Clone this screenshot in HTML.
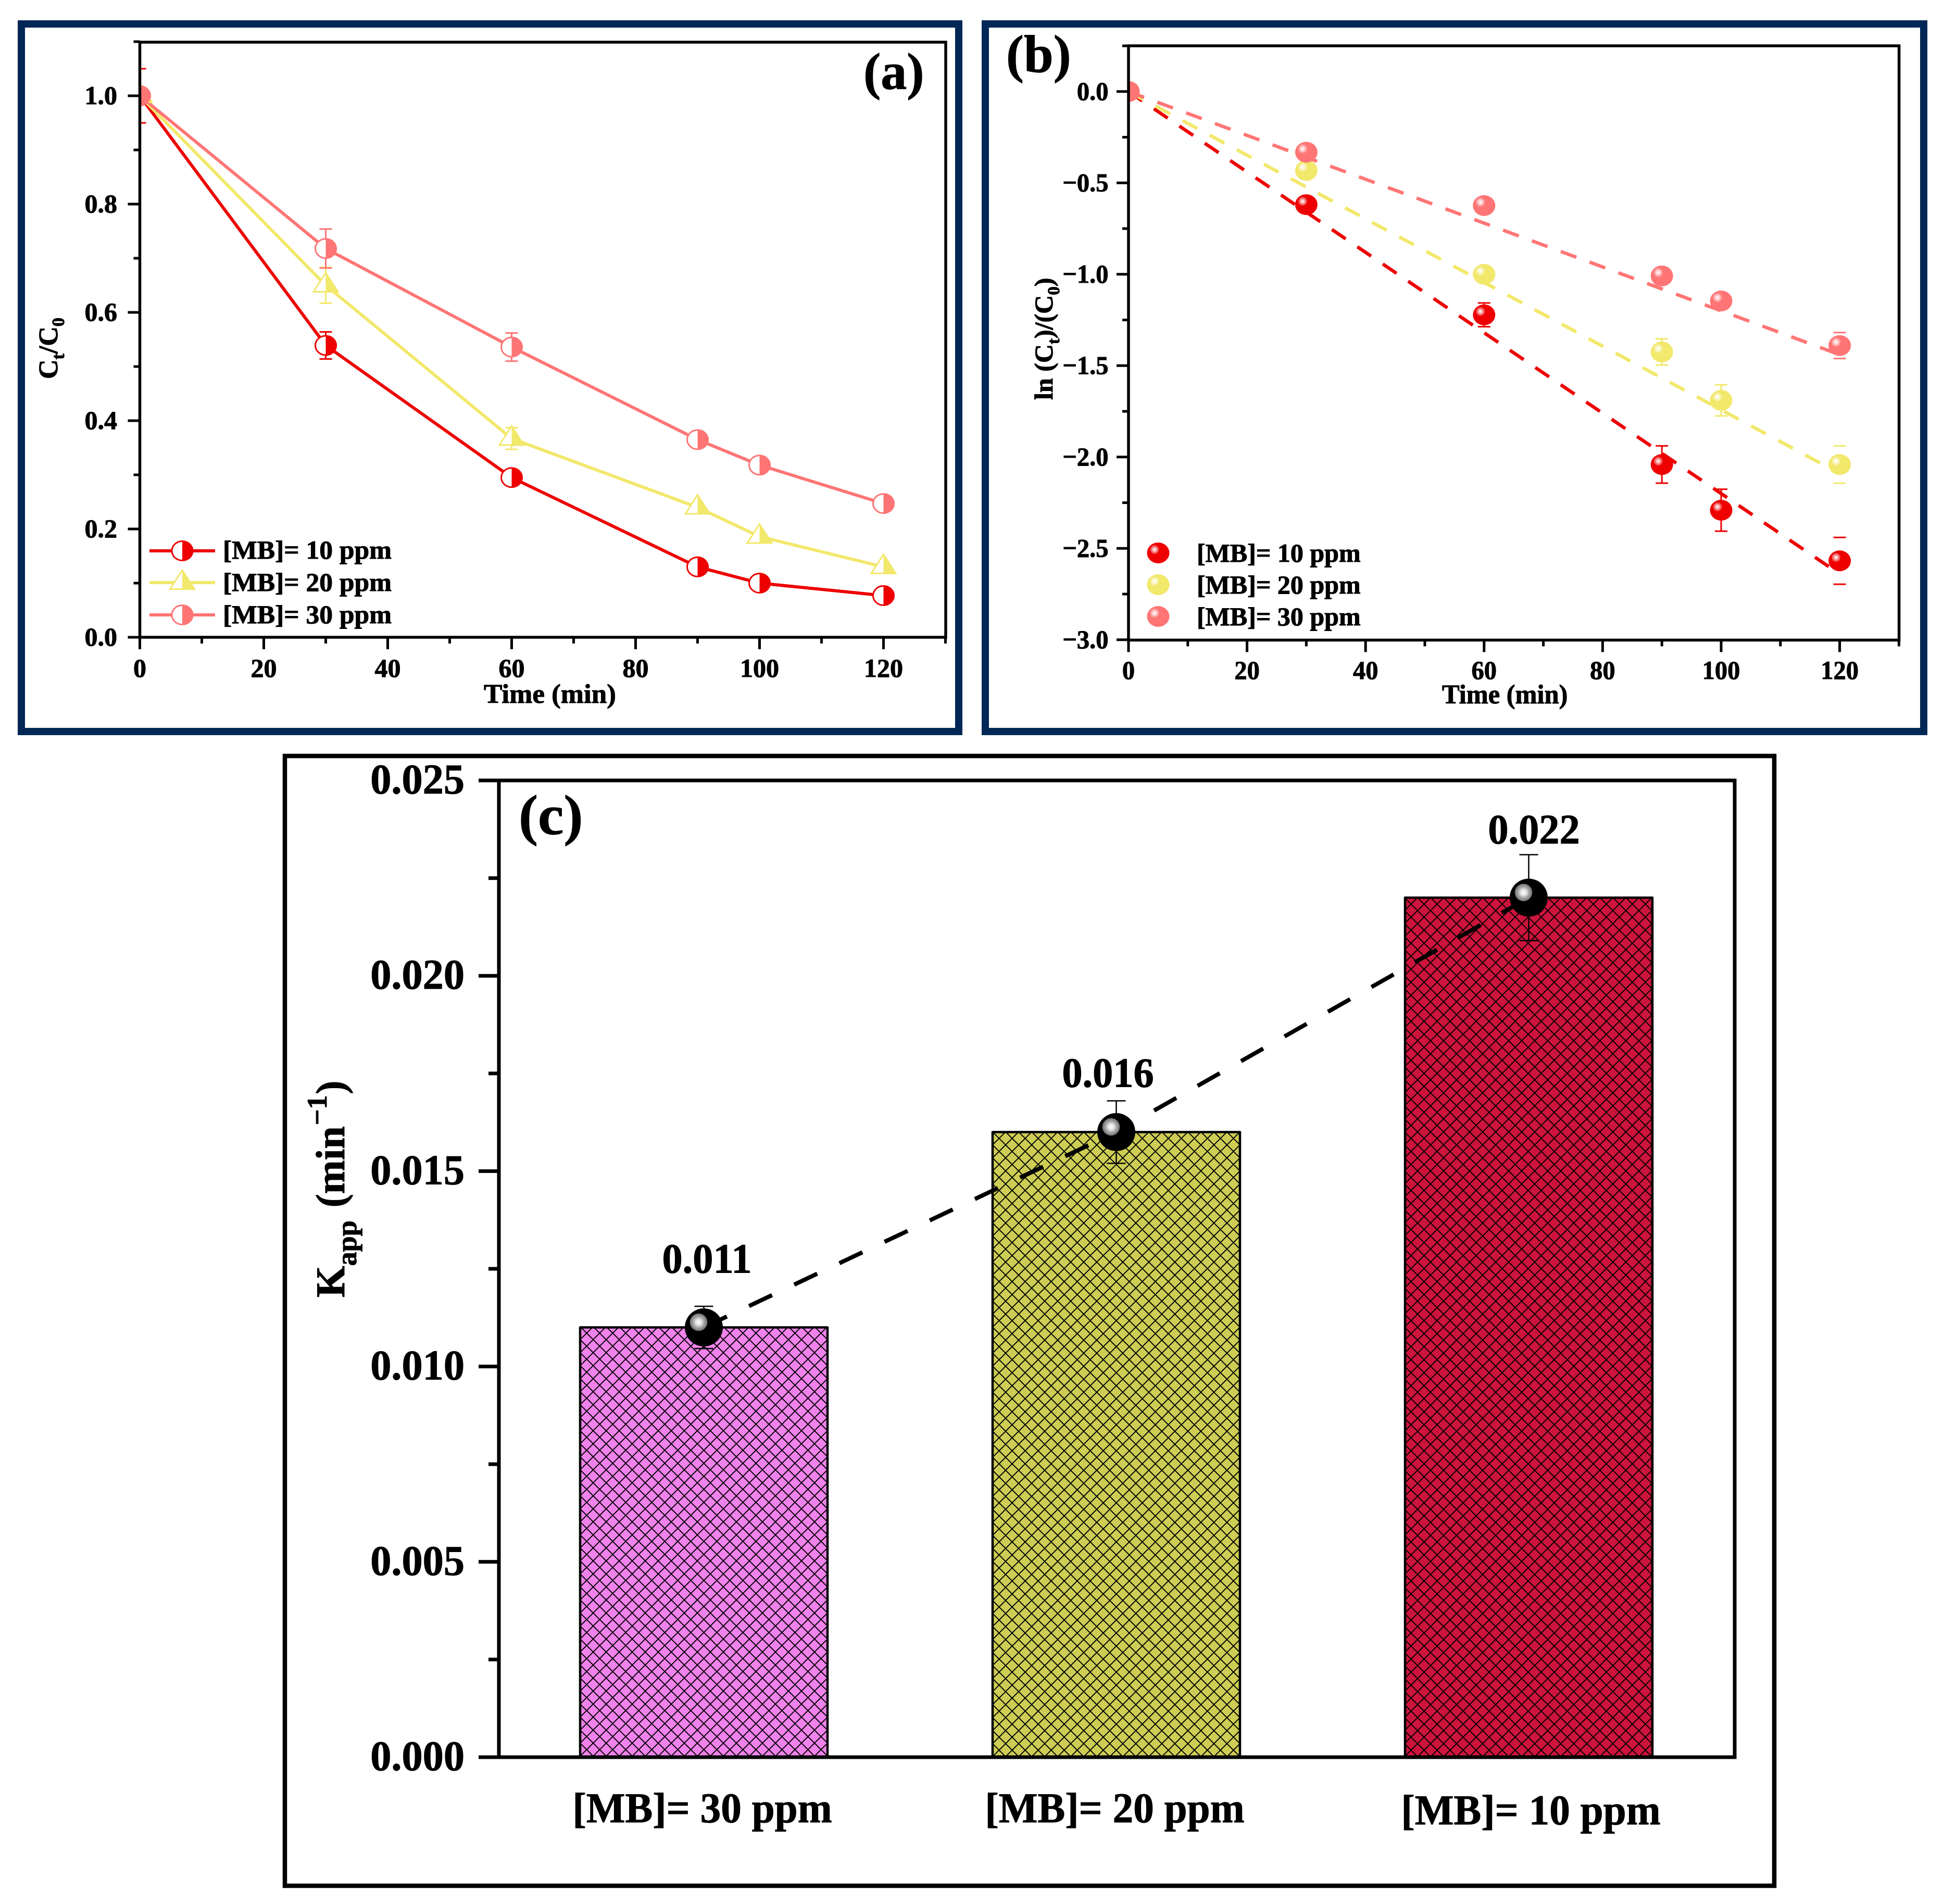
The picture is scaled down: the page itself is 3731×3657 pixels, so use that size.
<!DOCTYPE html>
<html lang="en">
<head>
<meta charset="utf-8">
<title>MB degradation kinetics</title>
<style>
html,body{margin:0;padding:0;background:#fff;}
svg{display:block;font-family:"Liberation Serif",serif;font-weight:bold;}
svg text{stroke:#000;stroke-width:1;}
</style>
</head>
<body>
<svg id="fig" xmlns="http://www.w3.org/2000/svg" width="3731" height="3657" viewBox="0 0 3731 3657">
  <defs>
    <clipPath id="clipA"><rect x="268.5" y="81" width="1547.5" height="1143"/></clipPath>
    <clipPath id="clipB"><rect x="2167" y="88" width="1479.6" height="1141.4"/></clipPath>
    <radialGradient id="shine">
      <stop offset="0" stop-color="#fff" stop-opacity="1"/>
      <stop offset="0.4" stop-color="#fff" stop-opacity="0.7"/>
      <stop offset="1" stop-color="#fff" stop-opacity="0.1"/>
    </radialGradient>
    <radialGradient id="shineDark">
      <stop offset="0" stop-color="#fff"/>
      <stop offset="0.35" stop-color="#e0e0e0"/>
      <stop offset="0.6" stop-color="#aaa"/>
      <stop offset="0.95" stop-color="#777"/>
      <stop offset="1" stop-color="#333"/>
    </radialGradient>
    <pattern id="hatchPink" patternUnits="userSpaceOnUse" width="25" height="25" x="1114" y="2548">
      <rect width="25" height="25" fill="#f082eb"/>
      <path d="M0,0L25,25M25,0L0,25" stroke="#000" stroke-width="1.9" fill="none"/>
    </pattern>
    <pattern id="hatchOlive" patternUnits="userSpaceOnUse" width="25" height="25" x="1906" y="2174">
      <rect width="25" height="25" fill="#cdcd55"/>
      <path d="M0,0L25,25M25,0L0,25" stroke="#000" stroke-width="1.9" fill="none"/>
    </pattern>
    <pattern id="hatchCrimson" patternUnits="userSpaceOnUse" width="25" height="25" x="2697" y="1724">
      <rect width="25" height="25" fill="#cd143c"/>
      <path d="M0,0L25,25M25,0L0,25" stroke="#000" stroke-width="1.9" fill="none"/>
    </pattern>
  </defs>

  <rect x="0" y="0" width="3731" height="3657" fill="#fff"/>
  <rect x="41" y="46" width="1800" height="1359" fill="#fff" stroke="#012756" stroke-width="14"/>
  <rect x="1892" y="46" width="1802" height="1359" fill="#fff" stroke="#012756" stroke-width="14"/>
  <rect x="547" y="1452" width="2860" height="2170" fill="#fff" stroke="#000" stroke-width="8.5"/>

  <g id="panelA"></g>
  <g id="panelB"></g>
  <g id="panelC"></g>

  <text transform="translate(1658,171)" font-size="100">(a)</text>
  <text transform="translate(1932,138)" font-size="102">(b)</text>
  <text transform="translate(996,1602) scale(1.03,1)" font-size="108">(c)</text>

  <text transform="translate(929,1350) scale(1.02,1)" font-size="52">Time (min)</text>
  <text transform="translate(2769,1351) scale(0.97,1)" font-size="52">Time (min)</text>

  <text transform="translate(110,728) rotate(-90)" font-size="52">C<tspan font-size="34" dy="13">t</tspan><tspan dy="-13">/C</tspan><tspan font-size="34" dy="13">0</tspan></text>
  <text transform="translate(2021,768) rotate(-90)" font-size="50">ln (C<tspan font-size="33" dy="13">t</tspan><tspan dy="-13">)/(C</tspan><tspan font-size="33" dy="13">0</tspan><tspan dy="-13">)</tspan></text>
  <text transform="translate(661,2492) rotate(-90)" font-size="78">K<tspan font-size="54" dy="23">app</tspan><tspan dy="-23" dx="25">(min</tspan><tspan font-size="54" dy="-34" dx="2">−1</tspan><tspan dy="34" dx="2">)</tspan></text>

  <text transform="translate(428,1073) scale(1.03,1)" font-size="50">[MB]= 10 ppm</text>
  <text transform="translate(428,1135) scale(1.03,1)" font-size="50">[MB]= 20 ppm</text>
  <text transform="translate(428,1197) scale(1.03,1)" font-size="50">[MB]= 30 ppm</text>
  <text transform="translate(2298,1079) scale(1,1)" font-size="50">[MB]= 10 ppm</text>
  <text transform="translate(2298,1140) scale(1,1)" font-size="50">[MB]= 20 ppm</text>
  <text transform="translate(2298,1201) scale(1,1)" font-size="50">[MB]= 30 ppm</text>
</svg>

<script>
// ---- Panel (a) data: Ct/C0 vs time ----
const timeValues = [0, 30, 60, 90, 100, 120];
const ratio10 = [1, 0.539, 0.295, 0.13, 0.10, 0.077];
const ratio20 = [1, 0.65, 0.367, 0.24, 0.186, 0.13];
const ratio30 = [1, 0.718, 0.536, 0.365, 0.318, 0.247];
const ratioErr10 = [0.05, 0.025, 0.01, 0.005, 0.005, 0.004];
const ratioErr20 = [0, 0.033, 0.02, 0.006, 0.006, 0.005];
const ratioErr30 = [0, 0.036, 0.026, 0.015, 0.005, 0.005];
const ratioTickValues = [0, 0.2, 0.4, 0.6, 0.8, 1.0];
const ratioTickLabels = ['0.0', '0.2', '0.4', '0.6', '0.8', '1.0'];
const ratioMinorTicks = [0.1, 0.3, 0.5, 0.7, 0.9, 1.1];

// ---- Shared x axis ----
const timeTickValues = [0, 20, 40, 60, 80, 100, 120];
const timeTickLabels = ['0', '20', '40', '60', '80', '100', '120'];
const timeMinorTicks = [10, 30, 50, 70, 90, 110, 130];

// ---- Panel (b) data: ln(Ct/C0) vs time ----
const ln10 = [0, -0.619, -1.222, -2.041, -2.291, -2.568];
const ln20 = [0, -0.432, -1.0, -1.425, -1.69, -2.041];
const ln30 = [0, -0.332, -0.624, -1.009, -1.146, -1.39];
const lnErr10 = [0, 0.03, 0.065, 0.102, 0.115, 0.128];
const lnErr20 = [0, 0.02, 0.03, 0.072, 0.085, 0.102];
const lnErr30 = [0, 0.02, 0.03, 0.03, 0.03, 0.071];
const fitTimes = [0, 120];
const fit10 = [0, -2.64];
const fit20 = [0, -2.09];
const fit30 = [0, -1.44];
const lnTickValues = [0, -0.5, -1, -1.5, -2, -2.5, -3];
const lnTickLabels = ['0.0', '−0.5', '−1.0', '−1.5', '−2.0', '−2.5', '−3.0'];
const lnMinorTicks = [0.25, -0.25, -0.75, -1.25, -1.75, -2.25, -2.75];

// ---- Panel (c) data: apparent rate constant ----
const barCategories = ['[MB]= 30 ppm', '[MB]= 20 ppm', '[MB]= 10 ppm'];
const barValues = [0.011, 0.016, 0.022];
const barErrors = [0.00054, 0.0008, 0.0011];
const barPrinted = ['0.011', '0.016', '0.022'];
const rateTickValues = [0, 0.005, 0.01, 0.015, 0.02, 0.025];
const rateTickLabels = ['0.000', '0.005', '0.010', '0.015', '0.020', '0.025'];
const rateMinorTicks = [0.0025, 0.0075, 0.0125, 0.0175, 0.0225];

// ---- Colours ----
const RED = '#ee0000', YELLOW = '#f2e86b', PINK = '#ff7575';

// ---- Axis functions ----
const xA = v => 268.5 + v * 11.9;
const yA = v => 1224 - v * 1040;
const xB = v => 2167 + v * 11.38;
const yB = v => 175.8 - v * 351;
const xC = i => 1351.5 + i * 792;
const yC = v => 3375 - v * 75040;

const NS = 'http://www.w3.org/2000/svg';
function add(parent, tag, attrs) {
  const e = document.createElementNS(NS, tag);
  for (const k in attrs) e.setAttribute(k, attrs[k]);
  parent.appendChild(e);
  return e;
}
function label(parent, str, x, y, size, anchor, sx) {
  const t = add(parent, 'text', {transform: 'translate(' + x + ',' + y + ') scale(' + sx + ',1)', 'font-size': size, 'text-anchor': anchor});
  t.textContent = str;
  return t;
}
function line(parent, x1, y1, x2, y2, color, w) {
  return add(parent, 'line', {x1: x1, y1: y1, x2: x2, y2: y2, stroke: color, 'stroke-width': w});
}

function drawFrame(g, l, t, r, b, w) {
  const box = add(g, 'rect', {x: l, y: t, width: r - l, height: b - t, fill: 'none', stroke: '#000', 'stroke-width': w});
  
  
}
function drawXTicks(g, xf, axisY, vals, labels, minors, baseline, fs, sx) {
  vals.forEach((v, i) => {
    const tick = line(g, xf(v), axisY, xf(v), axisY + 23, '#000', 5);
    
    
    const lab = label(g, labels[i], xf(v), baseline, fs, 'middle', sx);
    
    
  });
  minors.forEach(v => {
    const tick = line(g, xf(v), axisY, xf(v), axisY + 12, '#000', 5);
    
    
  });
}
function drawYTicks(g, yf, axisX, vals, labels, minors, labelX, dy, fs, sx, major, minor, w) {
  vals.forEach((v, i) => {
    const tick = line(g, axisX - major, yf(v), axisX, yf(v), '#000', w);
    
    
    const lab = label(g, labels[i], labelX, yf(v) + dy, fs, 'end', sx);
    
    
  });
  minors.forEach(v => {
    const tick = line(g, axisX - minor, yf(v), axisX, yf(v), '#000', w);
    
    
  });
}
function halfCircle(g, cx, cy, color) {
  const s = add(g, 'g', {});
  add(s, 'ellipse', {cx: cx, cy: cy, rx: 20, ry: 18.5, fill: '#fff', stroke: color, 'stroke-width': 3});
  add(s, 'path', {d: 'M' + cx + ',' + (cy - 19.5) + 'A21.5,19.5 0 0 1 ' + cx + ',' + (cy + 19.5) + 'Z', fill: color});
  return s;
}
function halfTriangle(g, cx, cy, color) {
  const s = add(g, 'g', {});
  add(s, 'path', {d: 'M' + cx + ',' + (cy - 24) + 'L' + (cx + 23.5) + ',' + (cy + 12.5) + 'L' + (cx - 23.5) + ',' + (cy + 12.5) + 'Z', fill: '#fff', stroke: color, 'stroke-width': 3});
  add(s, 'path', {d: 'M' + cx + ',' + (cy - 26) + 'L' + (cx + 25.5) + ',' + (cy + 14) + 'L' + cx + ',' + (cy + 14) + 'Z', fill: color});
  return s;
}
function sphere(g, cx, cy, color) {
  const s = add(g, 'g', {});
  add(s, 'ellipse', {cx: cx, cy: cy, rx: 21.5, ry: 20, fill: color});
  add(s, 'ellipse', {cx: cx - 7, cy: cy - 6.5, rx: 9, ry: 9, fill: 'url(#shine)'});
  return s;
}
function errorBar(g, cx, yTop, yBot, color, w, capHalf, stem) {
  const s = add(g, 'g', {});
  if (stem) line(s, cx, yTop, cx, yBot, color, w);
  line(s, cx - capHalf, yTop, cx + capHalf, yTop, color, w);
  line(s, cx - capHalf, yBot, cx + capHalf, yBot, color, w);
  return s;
}
function pathThrough(xs, ys, xf, yf) {
  return xs.map((x, i) => (i ? 'L' : 'M') + xf(x) + ',' + yf(ys[i])).join('');
}

// ---------- Panel A ----------
(function () {
  const g = document.getElementById('panelA');
  const plot = add(g, 'g', {'clip-path': 'url(#clipA)'});
  
  
  const series = [
    {key: '10ppm', vals: ratio10, errs: ratioErr10, color: RED, marker: halfCircle},
    {key: '20ppm', vals: ratio20, errs: ratioErr20, color: YELLOW, marker: halfTriangle},
    {key: '30ppm', vals: ratio30, errs: ratioErr30, color: PINK, marker: halfCircle}
  ];
  series.forEach(s => {
    const p = add(plot, 'path', {d: pathThrough(timeValues, s.vals, xA, yA), fill: 'none', stroke: s.color, 'stroke-width': 6, 'stroke-linejoin': 'round'});
    
    
  });
  series.forEach(s => {
    timeValues.forEach((t, i) => {
      if (s.errs[i] > 0) {
        const eb = errorBar(plot, xA(t), yA(s.vals[i] + s.errs[i]), yA(s.vals[i] - s.errs[i]), s.color, 3, 12, true);
        
        
      }
      const m = s.marker(plot, xA(t), yA(s.vals[i]), s.color);
      
      
    });
  });
  drawFrame(g, 268.5, 81, 1816, 1224, 5.5);
  drawXTicks(g, xA, 1224, timeTickValues, timeTickLabels, timeMinorTicks, 1300, 50, 1.0);
  drawYTicks(g, yA, 268.5, ratioTickValues, ratioTickLabels, ratioMinorTicks, 225, 16, 50, 1.0, 23, 12, 5);

  const rows = [
    {key: '10ppm', y: 1058, color: RED, marker: halfCircle},
    {key: '20ppm', y: 1119, color: YELLOW, marker: halfTriangle},
    {key: '30ppm', y: 1181, color: PINK, marker: halfCircle}
  ];
  rows.forEach(r => {
    const l = line(g, 287, r.y, 413, r.y, r.color, 6);
    
    
    const m = r.marker(g, 350, r.y, r.color);
    
    
  });
})();

// ---------- Panel B ----------
(function () {
  const g = document.getElementById('panelB');
  const plot = add(g, 'g', {'clip-path': 'url(#clipB)'});
  
  
  const series = [
    {key: '10ppm', vals: ln10, errs: lnErr10, fit: fit10, color: RED},
    {key: '20ppm', vals: ln20, errs: lnErr20, fit: fit20, color: YELLOW},
    {key: '30ppm', vals: ln30, errs: lnErr30, fit: fit30, color: PINK}
  ];
  series.forEach(s => {
    const p = add(plot, 'path', {d: pathThrough(fitTimes, s.fit, xB, yB), fill: 'none', stroke: s.color, 'stroke-width': 6.5, 'stroke-dasharray': '32 27'});
    
    
  });
  series.forEach(s => {
    timeValues.forEach((t, i) => {
      if (s.errs[i] > 0) {
        const eb = errorBar(plot, xB(t), yB(s.vals[i] + s.errs[i]), yB(s.vals[i] - s.errs[i]), s.color, 3, 12, t < 120);
        
        
      }
      const m = sphere(plot, xB(t), yB(s.vals[i]), s.color);
      
      
    });
  });
  drawFrame(g, 2167, 88, 3646.6, 1229.4, 5.5);
  drawXTicks(g, xB, 1229.4, timeTickValues, timeTickLabels, timeMinorTicks, 1304, 50, 0.97);
  drawYTicks(g, yB, 2167, lnTickValues, lnTickLabels, lnMinorTicks, 2128.5, 16, 50, 0.97, 23, 12, 5);

  const rows = [
    {key: '10ppm', y: 1062, color: RED},
    {key: '20ppm', y: 1123, color: YELLOW},
    {key: '30ppm', y: 1184, color: PINK}
  ];
  rows.forEach(r => {
    const m = sphere(g, 2224, r.y, r.color);
    
    
  });
})();

// ---------- Panel C ----------
(function () {
  const g = document.getElementById('panelC');
  const fills = ['url(#hatchPink)', 'url(#hatchOlive)', 'url(#hatchCrimson)'];
  const labelNudge = [[6, -105], [-16, -87], [10, -104]];
  const catNudge = [[-3, 125], [-3, 125], [4, 129]];
  barValues.forEach((v, i) => {
    const b = add(g, 'rect', {x: xC(i) - 237.5, y: yC(v), width: 475, height: yC(0) - yC(v), fill: fills[i], stroke: '#000', 'stroke-width': 4.5, 'stroke-linejoin': 'round'});
    
    
    const cat = label(g, barCategories[i], xC(i) + catNudge[i][0], yC(0) + catNudge[i][1], 82, 'middle', 0.966);
    
    
  });
  const trend = add(g, 'path', {d: pathThrough([0, 1, 2], barValues, xC, yC), fill: 'none', stroke: '#000', 'stroke-width': 8, 'stroke-dasharray': '49 47'});
  
  
  barValues.forEach((v, i) => {
    const eb = errorBar(g, xC(i), yC(v + barErrors[i]), yC(v - barErrors[i]), '#000', 2.5, 18, true);
    
    
    const m = add(g, 'g', {});
    
    
    add(m, 'circle', {cx: xC(i), cy: yC(v), r: 36.5, fill: '#000'});
    add(m, 'circle', {cx: xC(i) - 10, cy: yC(v) - 10, r: 17, fill: 'url(#shineDark)'});
    const val = label(g, barPrinted[i], xC(i) + labelNudge[i][0], yC(v) + labelNudge[i][1], 80, 'middle', 0.98);
    
    
  });
  drawFrame(g, 958, 1499, 3331, 3375, 7);
  drawYTicks(g, yC, 958, rateTickValues, rateTickLabels, rateMinorTicks, 892, 25, 82, 0.98, 39, 20, 7);
})();
</script>
</body>
</html>
